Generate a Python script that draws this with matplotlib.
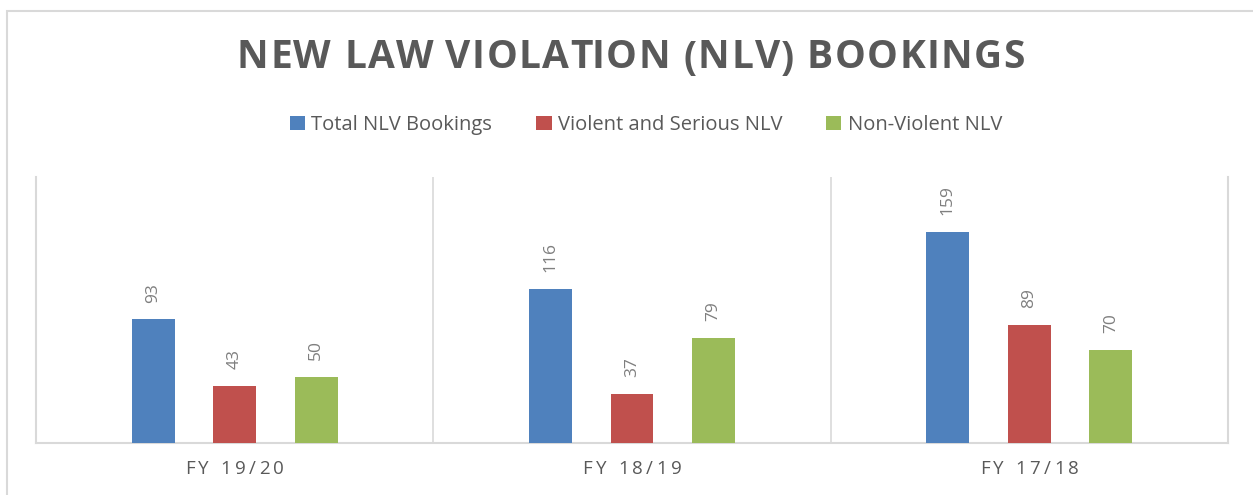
import matplotlib
matplotlib.use("Agg")
import matplotlib.pyplot as plt
from matplotlib.patches import Patch, Rectangle
from matplotlib.transforms import IdentityTransform
import numpy as np

categories = ["FY 19/20", "FY 18/19", "FY 17/18"]
series_names = ["Total NLV Bookings", "Violent and Serious NLV", "Non-Violent NLV"]
total_nlv = [93, 116, 159]
violent_nlv = [43, 37, 89]
nonviolent_nlv = [50, 79, 70]

COLORS = ["#4F81BD", "#C0504D", "#9BBB59"]
TXT = "#595959"
GRID = "#D9D9D9"
FONT = "Open Sans"

W, H = 1253, 495
fig = plt.figure(figsize=(W / 100, H / 100), dpi=100)
renderer = fig.canvas.get_renderer()


def text_width(s, **kw):
    t = fig.text(0, 0, s, **kw)
    w = t.get_window_extent(renderer).width
    t.remove()
    return w


def spaced_text(xc, y, s, target_w, **kw):
    # letter-spaced text, centred at pixel xc, y in pixels from the top
    ref = text_width("x", **kw)
    natural = text_width(s, **kw)
    gap = (target_w - natural) / max(len(s) - 1, 1)
    x0 = xc - target_w / 2
    for i, ch in enumerate(s):
        if ch == " ":
            continue
        off = text_width(s[:i] + "x", **kw) - ref if i > 0 else 0
        fig.text(x0 + off + gap * i, H - y, ch, transform=IdentityTransform(),
                 ha="left", va="center", **kw)


# outer chart border
fig.patches.append(Rectangle((7 / W, -0.1), 1.2, 1 - 11 / H + 0.1, transform=fig.transFigure,
                             fill=False, edgecolor=GRID, linewidth=1.5))

ax = fig.add_axes([36 / W, 1 - 443 / H, (1228 - 36) / W, (443 - 177) / H])
x = np.arange(len(categories))
width = 0.108
step = 0.205
values = [total_nlv, violent_nlv, nonviolent_nlv]
for k, (vals, col) in enumerate(zip(values, COLORS)):
    pos = x + (k - 1) * step
    ax.bar(pos, vals, width, color=col, zorder=3)
    for p, v in zip(pos, vals):
        ax.annotate(str(v), (p, v), xytext=(0, 12), textcoords="offset points",
                    rotation=90, ha="center", va="bottom", fontsize=12.5,
                    color="#7F7F7F", family=FONT)

ax.set_xlim(-0.5, 2.5)
ax.set_ylim(0, 200)
ax.set_yticks([])
ax.set_xticks([])
for b in [0.5, 1.5]:
    ax.axvline(b, color=GRID, linewidth=1.2, zorder=1)
for s in ["left", "right", "bottom"]:
    ax.spines[s].set_color(GRID)
    ax.spines[s].set_linewidth(1.5)
ax.spines["top"].set_visible(False)

# category labels
for i, c in enumerate(categories):
    xc = 36 + (i + 0.5) * (1228 - 36) / 3
    spaced_text(xc, 469, c, 99, fontsize=13.5, color=TXT, family=FONT)

# title
spaced_text(631, 58, "NEW LAW VIOLATION (NLV) BOOKINGS", 788, fontsize=28,
            fontweight="bold", color=TXT, family=FONT)

handles = [Patch(facecolor=c) for c in COLORS]
fig.legend(handles, series_names, loc="center", bbox_to_anchor=(646 / W, 1 - 125 / H),
           ncol=3, frameon=False, handlelength=0.75, handleheight=0.75,
           handletextpad=0.3, columnspacing=2.2,
           prop={"family": FONT, "size": 14.5}, labelcolor=TXT)

fig.savefig("out.png", dpi=100)
